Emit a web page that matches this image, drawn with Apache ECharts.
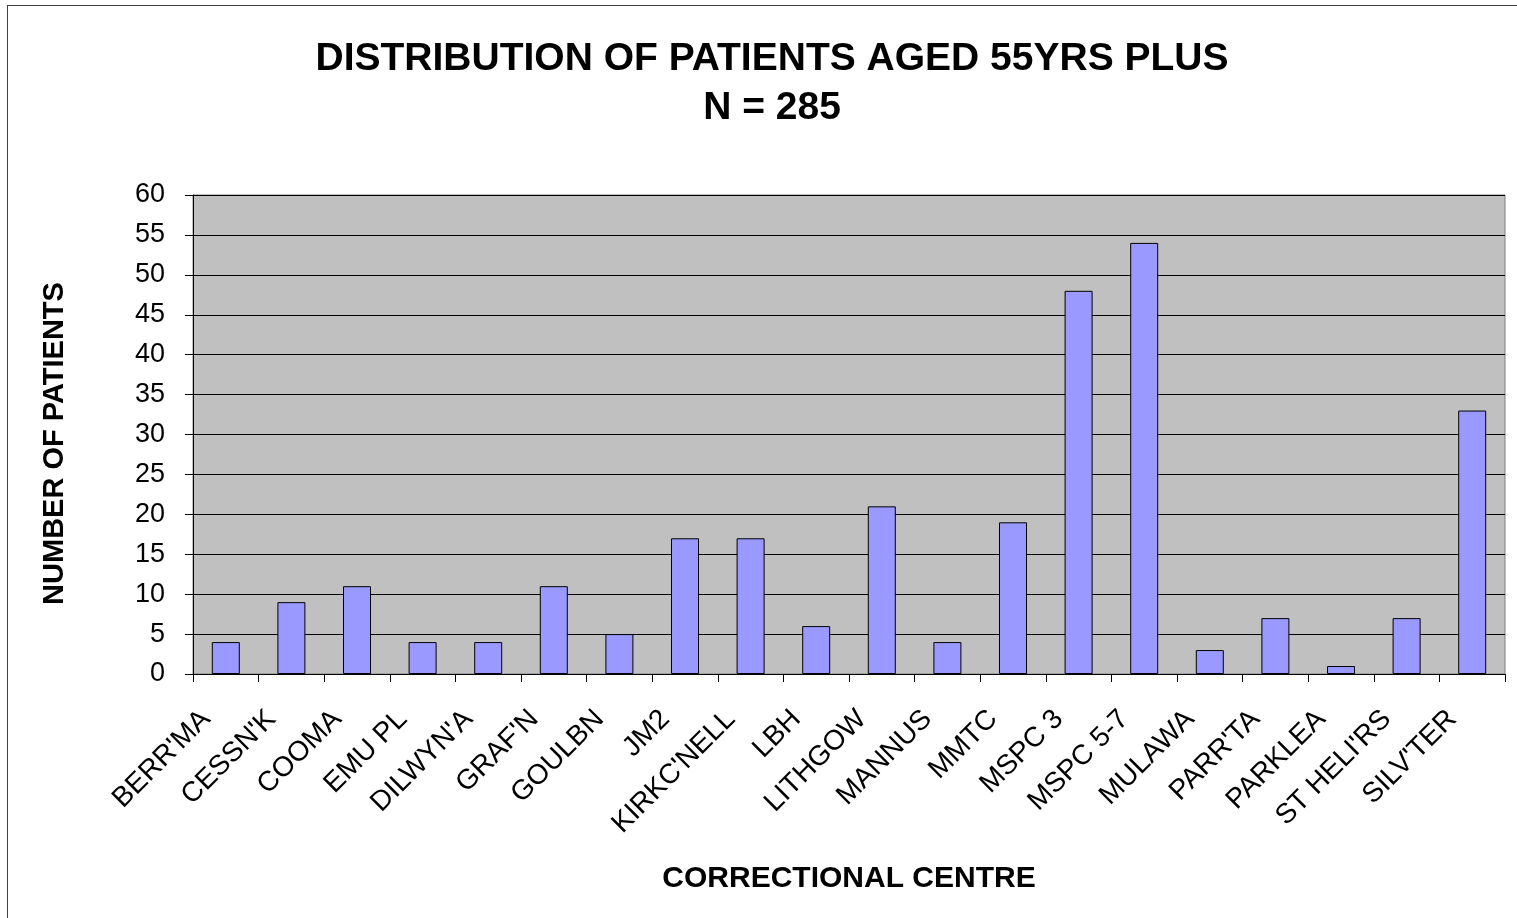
<!DOCTYPE html>
<html>
<head>
<meta charset="utf-8">
<script src="https://cdn.jsdelivr.net/npm/echarts@6/dist/echarts.min.js"></script>
<style>
  html, body { margin: 0; padding: 0; background: #fff; }
  #frame { position: absolute; left: 7px; top: 5px; width: 1520px; height: 920px; border: 1px solid #404040; box-sizing: border-box; }
  #main { position: absolute; left: 0; top: 0; width: 1517px; height: 918px; }
</style>
</head>
<body>
<div id="frame"></div>
<div id="main"></div>
<script>
const centres = ["BERR'MA", "CESSN'K", "COOMA", "EMU PL", "DILWYN'A", "GRAF'N", "GOULBN", "JM2",
  "KIRKC'NELL", "LBH", "LITHGOW", "MANNUS", "MMTC", "MSPC 3", "MSPC 5-7", "MULAWA",
  "PARR'TA", "PARKLEA", "ST HELI'RS", "SILV'TER"];
const patients = [4, 9, 11, 4, 4, 11, 5, 17, 17, 6, 21, 4, 19, 48, 54, 3, 7, 1, 7, 33];

const font = "Liberation Sans, Arial, sans-serif";
const chart = echarts.init(document.getElementById("main"));
chart.setOption({
  animation: false,
  title: {
    text: "DISTRIBUTION OF PATIENTS AGED 55YRS PLUS\nN = 285",
    left: 767,
    textAlign: "center",
    top: 30,
    textStyle: { fontFamily: font, fontWeight: "bold", fontSize: 39, color: "#000", lineHeight: 49 }
  },
  grid: {
    show: true,
    left: 193,
    right: 12,
    top: 195,
    bottom: 244,
    backgroundColor: "#C0C0C0",
    borderColor: "#808080",
    borderWidth: 1
  },
  xAxis: {
    type: "category",
    data: centres,
    name: "CORRECTIONAL CENTRE",
    nameLocation: "middle",
    nameGap: 190,
    nameTextStyle: { fontFamily: font, fontWeight: "bold", fontSize: 30, color: "#000" },
    axisLine: { lineStyle: { color: "#000", width: 1 } },
    axisTick: { show: true, length: 8, lineStyle: { color: "#000" } },
    axisLabel: { rotate: 45, fontFamily: font, fontSize: 28, color: "#000", margin: 21, padding: [0, 28, 0, 0], interval: 0 }
  },
  yAxis: {
    type: "value",
    min: 0,
    max: 60,
    interval: 5,
    name: "NUMBER OF PATIENTS",
    nameLocation: "middle",
    nameGap: 124,
    nameTextStyle: { fontFamily: font, fontWeight: "bold", fontSize: 29, color: "#000", padding: [0, 18, 0, 0] },
    axisLine: { show: true, lineStyle: { color: "#000" } },
    axisTick: { show: true, length: 8, lineStyle: { color: "#000" } },
    axisLabel: { fontFamily: font, fontSize: 27, color: "#000", margin: 28 },
    splitLine: { show: true, lineStyle: { color: "#000", width: 1 } }
  },
  series: [{
    type: "bar",
    data: patients,
    barWidth: 28,
    itemStyle: { color: "#9999FF", borderColor: "#000", borderWidth: 1 }
  }]
});
</script>
</body>
</html>
